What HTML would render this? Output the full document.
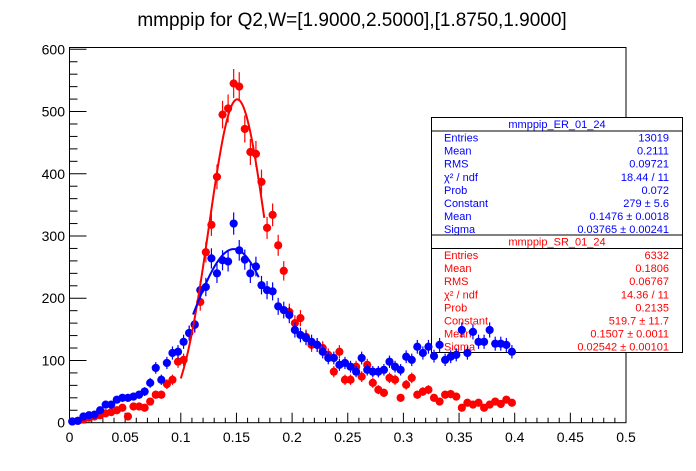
<!DOCTYPE html>
<html><head><meta charset="utf-8"><style>
body{margin:0;background:#fff;}
svg{display:block;font-family:"Liberation Sans",sans-serif;}
</style></head><body>
<svg id="c" width="696" height="471">
<text x="352" y="26" text-anchor="middle" font-size="19">mmppip for Q2,W=[1.9000,2.5000],[1.8750,1.9000]</text>
<rect x="69.5" y="47.5" width="556.5" height="375.2" fill="none" stroke="#000" stroke-width="1"/>
<g id="axes"></g>
<g id="boxes"></g>
<g id="marks"></g>
</svg>
<script>
const binWidth = 0.005;
const redValues = [2,3,5,8,10,12,15,17,20,24,10,26,26,24,34,45,45,62,69,98,101,144,157,194,274,318,395,495,505,545,540,472,435,432,387,313,334,285,244,178,160,168,138,125,125,120,109,82,114,69,69,90,74,93,64,53,48,72,69,40,61,72,45,50,53,40,34,45,46,42,24,32,29,32,24,29,34,30,37,32];
const blueValues = [2,3,10,12,13,20,29,29,37,40,40,42,45,50,64,88,69,96,112,114,130,144,158,213,218,264,240,261,259,320,277,262,240,251,221,213,211,187,181,173,149,141,136,130,125,114,104,104,93,96,90,82,104,85,82,82,85,98,90,85,106,101,122,112,122,107,125,101,106,109,149,112,146,130,130,149,127,127,125,114];
const redFit = {c:519.7, mean:0.1507, sigma:0.02542, from:0.1, to:0.175};
const blueFit = {c:279, mean:0.1476, sigma:0.03765, from:0.111, to:0.17};
const xTicks = [0,0.05,0.1,0.15,0.2,0.25,0.3,0.35,0.4,0.45,0.5];
const xTickLabels = ["0","0.05","0.1","0.15","0.2","0.25","0.3","0.35","0.4","0.45","0.5"];
const yTicks = [0,100,200,300,400,500,600];
const yTickLabels = ["0","100","200","300","400","500","600"];
const blueStats = [["Entries","13019"],["Mean","0.2111"],["RMS","0.09721"],["χ² / ndf","18.44 / 11"],["Prob","0.072"],["Constant","279 ± 5.6"],["Mean","0.1476 ± 0.0018"],["Sigma","0.03765 ± 0.00241"]];
const redStats = [["Entries","6332"],["Mean","0.1806"],["RMS","0.06767"],["χ² / ndf","14.36 / 11"],["Prob","0.2135"],["Constant","519.7 ± 11.7"],["Mean","0.1507 ± 0.0011"],["Sigma","0.02542 ± 0.00101"]];

const NS="http://www.w3.org/2000/svg";
const X0=69.5, X1=626, Y0=422.7, Y600=49.3;
function xs(v){return X0+(X1-X0)*v/0.5;}
function ys(v){return Y0-(Y0-Y600)*v/600;}
function mk(tag,attrs,parent){const e=document.createElementNS(NS,tag);for(const k in attrs)e.setAttribute(k,attrs[k]);parent.appendChild(e);return e;}
const axes=document.getElementById('axes');
for(let i=0;i<=50;i++){const v=i*0.01;const len=(i%5===0)?10:5;
 const t=mk('line',{x1:xs(v),x2:xs(v),y1:Y0,y2:Y0-len,stroke:'#000'},axes);
 
 }
xTicks.forEach((v,i)=>{const t=mk('text',{x:xs(v),y:442,'text-anchor':'middle','font-size':'14'},axes);t.textContent=xTickLabels[i];
 
 });
for(let i=0;i<=30;i++){const v=i*20;const len=(i%5===0)?17:8;
 const t=mk('line',{x1:X0,x2:X0+len,y1:ys(v),y2:ys(v),stroke:'#000'},axes);
 
 }
yTicks.forEach((v,i)=>{const t=mk('text',{x:65,y:ys(v)+5,'text-anchor':'end','font-size':'14'},axes);t.textContent=yTickLabels[i];
 
 });
const boxes=document.getElementById('boxes');
function statBox(top,title,rows,color,name,bottom){
 const g=mk('g',{},boxes);
 
 
 mk('rect',{x:431.5,y:top,width:251,height:bottom-top,fill:'#fff',stroke:'#000'},g);
 mk('line',{x1:431.5,x2:682.5,y1:top+13.5,y2:top+13.5,stroke:'#000'},g);
 const tt=mk('text',{x:557,y:top+10.5,'text-anchor':'middle','font-size':'11',fill:color},g);tt.textContent=title;
 rows.forEach((r,i)=>{const y=top+24+i*13.1;
  const a=mk('text',{x:444,y:y,'font-size':'11',fill:color},g);a.textContent=r[0];
  const b=mk('text',{x:669,y:y,'text-anchor':'end','font-size':'11',fill:color},g);b.textContent=r[1];});
}
statBox(117.5,'mmppip_ER_01_24',blueStats,'#0000ff','stats-box-er',235);
statBox(235,'mmppip_SR_01_24',redStats,'#ff0000','stats-box-sr',352.5);
const marks=document.getElementById('marks');
function series(vals,color,name){
 const g=mk('g',{},marks);
 
 
 vals.forEach((v,i)=>{const xc=xs((i+0.5)*binWidth);const e=Math.sqrt(v);
  const l=mk('line',{x1:xc,x2:xc,y1:ys(v+e),y2:ys(Math.max(0,v-e)),stroke:color,'stroke-width':1.2},g);
  
  
  const c=mk('circle',{cx:xc,cy:ys(v),r:4.1,fill:color},g);
  
  });
}
function fit(f,color,name){
 let d='';for(let k=0;k<=60;k++){const x=f.from+(f.to-f.from)*k/60;const y=f.c*Math.exp(-0.5*Math.pow((x-f.mean)/f.sigma,2));d+=(k?'L':'M')+xs(x).toFixed(2)+','+ys(y).toFixed(2);}
 const p=mk('path',{d:d,fill:'none',stroke:color,'stroke-width':2},marks);
 
 
}
series(redValues,'#ff0000','series-sr');
series(blueValues,'#0000ff','series-er');
fit(redFit,'#ff0000','fit-curve-sr');
fit(blueFit,'#0000ff','fit-curve-er');
</script>
</body></html>
